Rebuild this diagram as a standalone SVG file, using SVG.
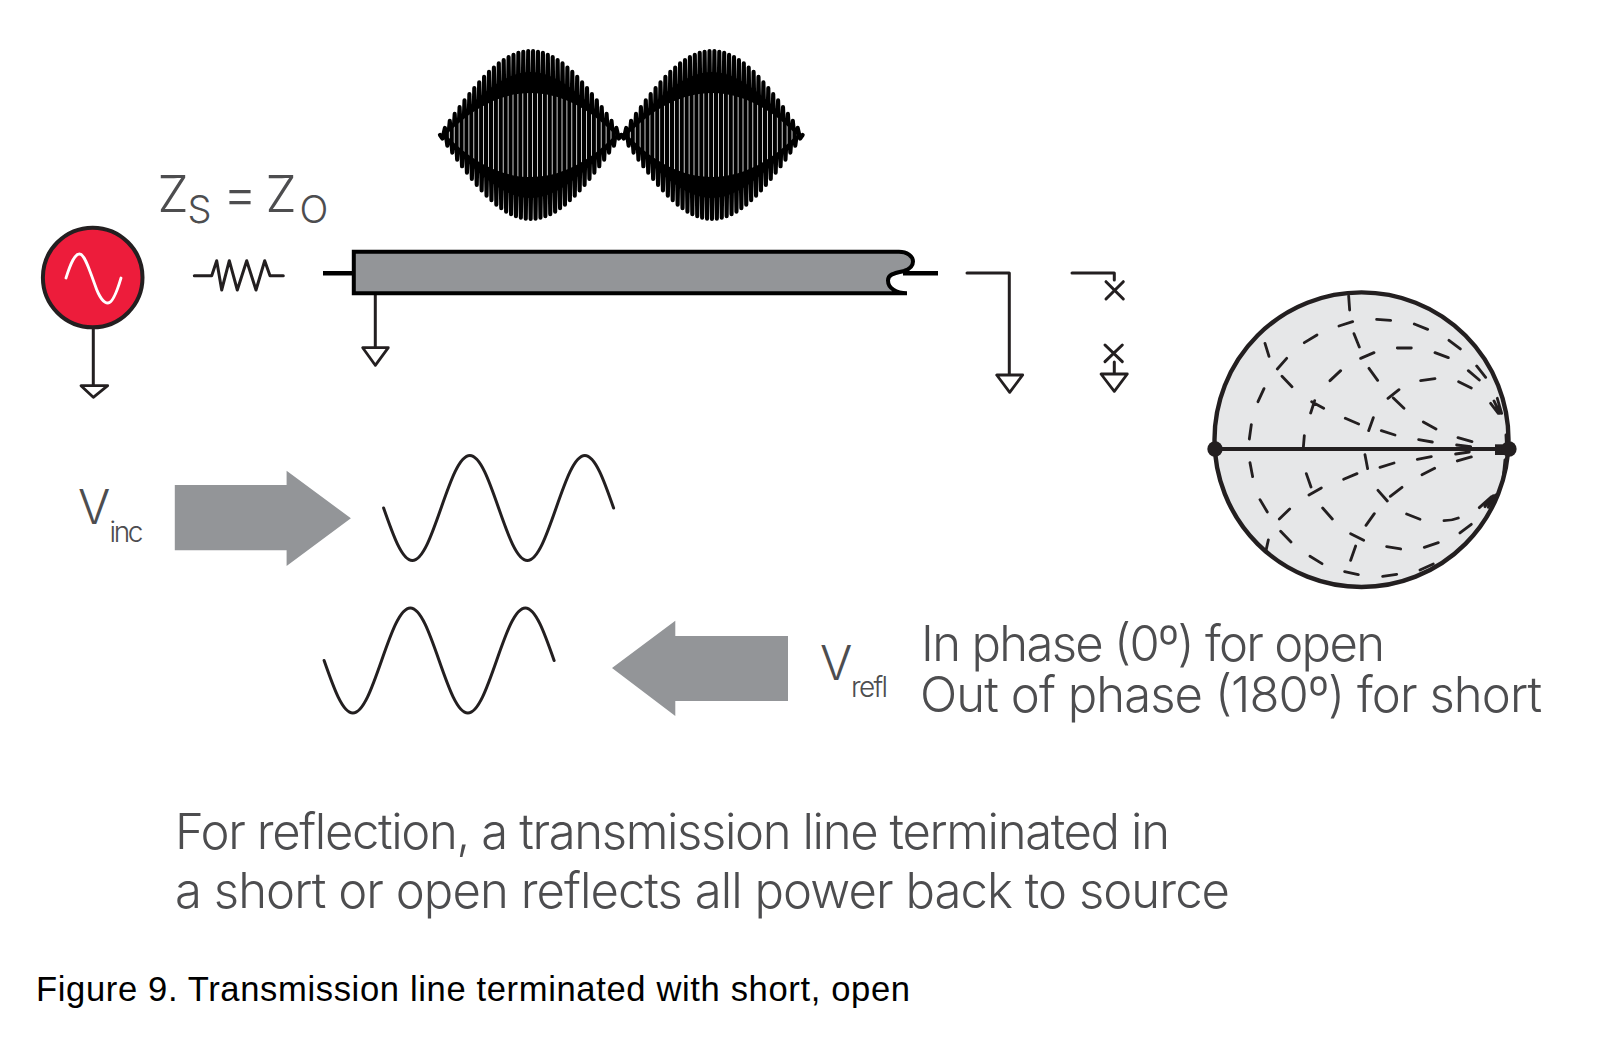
<svg xmlns="http://www.w3.org/2000/svg" xmlns:xlink="http://www.w3.org/1999/xlink" width="1616" height="1039" viewBox="0 0 1616 1039">
<style>
.w{fill:none;stroke:#231f20;stroke-width:3;stroke-linecap:round;stroke-linejoin:round}
.g{fill:#fff;stroke:#231f20;stroke-width:2.8;stroke-linejoin:round}
.t{font-family:Inter,"Liberation Sans",sans-serif;font-weight:300;fill:#4d4d4f}
.a{fill:#939598}
.d{fill:none;stroke:#231f20;stroke-width:8.5;stroke-linecap:round}
</style>
<defs>
<path id="lobe" d="M440 135L442.45 138.6L444.9 127.9L447.35 145.7L449.8 120.8L452.25 152.7L454.7 113.8L457.15 159.6L459.6 107L462.05 166.3L464.5 100.4L466.95 172.8L469.4 94L471.85 179L474.3 88L476.75 184.9L479.2 82.2L481.65 190.5L484.1 76.9L486.55 195.7L489 71.9L491.45 200.3L493.9 67.5L496.35 204.6L498.8 63.4L501.25 208.3L503.7 60L506.15 211.6L508.6 57L511.05 214.2L513.5 54.7L515.95 216.3L518.4 52.9L520.85 217.8L523.3 51.7L525.75 218.7L528.2 51.1L530.65 219L533.1 51.1L535.55 218.7L538 51.7L540.45 217.8L542.9 52.9L545.35 216.3L547.8 54.7L550.25 214.2L552.7 57L555.15 211.6L557.6 60L560.05 208.3L562.5 63.4L564.95 204.6L567.4 67.5L569.85 200.3L572.3 71.9L574.75 195.7L577.2 76.9L579.65 190.5L582.1 82.2L584.55 184.9L587 88L589.45 179L591.9 94L594.35 172.8L596.8 100.4L599.25 166.3L601.7 107L604.15 159.6L606.6 113.8L609.05 152.7L611.5 120.8L613.95 145.7L616.4 127.9L618.85 138.6L621.3 135"/>
<path id="solid" d="M442 135C517 51 544 51 619.3 135C544 219 517 219 442 135Z"/>
<path id="sine" d="M383.6 508c9.4 26.9 18.35 52.5 28.75 52.5c10.4 0 19.35 -25.6 28.75 -52.5c9.4 -26.9 18.35 -52.5 28.75 -52.5c10.4 0 19.35 25.6 28.75 52.5c9.4 26.9 18.35 52.5 28.75 52.5c10.4 0 19.35 -25.6 28.75 -52.5c9.4 -26.9 18.35 -52.5 28.75 -52.5c10.4 0 19.35 25.6 28.75 52.5"/>
<clipPath id="inner"><path d="M446 135C500 79 561 79 615.3 135C561 191 500 191 446 135Z"/></clipPath>
<clipPath id="inner2"><path d="M627.3 135C681.3 79 742.3 79 796.6 135C742.3 191 681.3 191 627.3 135Z"/></clipPath>
</defs>
<rect width="1616" height="1039" fill="#fff"/>

<g id="connectors">
<path class="w" d="M93.3 328V386"/>
<path class="w" d="M375.3 295V348"/>
<path d="M323 273.3H353M903 273.3H938" fill="none" stroke="#000" stroke-width="4.6"/>
<path class="w" d="M967 273H1009.3V375"/>
<path class="w" d="M1072 273H1114.3V280"/>
<path class="w" d="M1114.3 362V374"/>
</g>

<g id="source">
<circle cx="92.7" cy="277.5" r="49.8" fill="#ed1c3b" stroke="#231f20" stroke-width="4"/>
<path d="M66 278C71 262 75 254 79.5 254C85 254 90 272 95 285C99 297 104 303 108 303C112 303 116 295 121 278" fill="none" stroke="#fff" stroke-width="2.8" stroke-linecap="round"/>
<path class="g" d="M81 385.7H107.7L93.3 397.3Z"/>
</g>

<g id="resistor">
<path class="w" d="M194.3 275.7H211.7L216.7 260.7L221.7 290L229.3 260.7L237.3 290L246.7 260.7L256 290L264.7 260.7L270 275.7H283.3"/>
</g>

<g id="zs-label">
<text class="t" x="157.5" y="211.7" font-size="50">Z</text>
<text class="t" x="187.5" y="223" font-size="38">S</text>
<text class="t" x="223" y="211.7" font-size="52">=</text>
<text class="t" x="265.5" y="211.7" font-size="50">Z</text>
<text class="t" x="299.5" y="223" font-size="38">O</text>
</g>

<g id="waveform" fill="none" stroke="#000" stroke-width="4.1" stroke-linejoin="round" stroke-linecap="round">
<use xlink:href="#lobe" href="#lobe"/>
<use xlink:href="#lobe" href="#lobe" transform="translate(181.3 0)"/>
<use xlink:href="#solid" href="#solid" fill="#000" stroke="none"/>
<use xlink:href="#solid" href="#solid" fill="#000" stroke="none" transform="translate(181.3 0)"/>
</g>
<g id="waveform-gaps" fill="none" stroke="#fff" stroke-width="120" stroke-dasharray=".8 4.1">
<path d="M444 135H618" clip-path="url(#inner)"/>
<path d="M625 135H799" clip-path="url(#inner2)"/>
</g>

<g id="cable">
<path d="M353.8 251.8H899C907 251.8 913 256 913 261.5C913 266 910 269 904 271C895 273 888 274 888 280.5C888 288 896 293.2 907 293.2H353.8Z" fill="#939598" stroke="#000" stroke-width="4"/>
<path class="g" d="M362.7 347.7H388.3L375.3 365.3Z"/>
</g>

<g id="short">
<path class="g" d="M996.7 375H1022.7L1009.7 392.3Z"/>
</g>

<g id="open">
<path class="w" d="M1106 281.7L1123.3 299M1123.3 281.7L1106 299M1105 345L1122.3 361.7M1122.3 345L1105 361.7"/>
<path class="g" d="M1101 374H1127.3L1114.3 391.3Z"/>
</g>

<g id="smith">
<ellipse cx="1361.5" cy="439.7" rx="147" ry="147.3" fill="#e6e7e8" stroke="#231f20" stroke-width="4.4"/>
<g transform="translate(1190 280) scale(.3333)">
<path class="d" d="M476 48L479 90M447 138L488 125M560 118L602 121M673 132L713 148M777 181L811 207M492 161L508 201M343 188L381 165M225 190L237 229M262 267L290 235M276 289L306 320M420 302L452 272M512 235L552 218M622 204L664 204M735 218L775 233M537 265L563 301M692 302L735 296M806 305L844 324M835 272L868 300M860 258L887 292M594 355L627 329M610 354L642 385M204 365L222 326M362 399L374 362M365 365L401 385M466 415L506 432M536 452L550 413M574 452L615 465M700 426L738 447M686 479L727 486M804 473L846 485M178 477L184 434M340 503L343 467M800 495L842 500M797 522L838 516M802 543L844 531M682 538L724 530M570 562L612 549M525 524L533 566M696 584L734 565M461 598L501 581M180 548L188 590M349 581L363 621M357 645L394 624M564 631L592 663M601 649L636 622M210 659L232 696M268 717L299 687M398 684L427 717M528 736L553 701M650 702L690 718M762 722Q785 722 805 714M810 759L844 733M868 683L905 650M885 680L910 647M895 682L917 645M272 754L303 786M482 761L521 781M590 800L632 807M703 802L745 788M482 841L497 798M360 829L396 851M228 812L235 780M464 875L505 884M578 889L620 883M690 870L730 852M902 370L925 400M912 363L930 400M922 355L935 400M948 465L950 510M945 540L940 590"/>
<path d="M75 507H955" fill="none" stroke="#231f20" stroke-width="12"/>
<path d="M915 493H955V525H915Z" fill="#231f20"/>
<circle cx="75" cy="507" r="23" fill="#231f20"/>
<circle cx="957" cy="507" r="23" fill="#231f20"/>
</g>
</g>

<g id="v-inc">
<path class="a" d="M174.8 485H286.6V470.7L350.9 518.3L286.6 566V550.3H174.8Z"/>
<text class="t" x="78" y="524" font-size="48">V</text>
<text class="t" x="109.5" y="541.7" font-size="28" textLength="34">inc</text>
<use xlink:href="#sine" href="#sine" class="w"/>
</g>

<g id="v-refl">
<path class="a" d="M612 668L675.3 620.7V636H788V701H675.3V716Z"/>
<text class="t" x="820" y="680" font-size="48">V</text>
<text class="t" x="851" y="697" font-size="28" textLength="37">refl</text>
<use xlink:href="#sine" href="#sine" class="w" transform="translate(-59.5 152.5)"/>
</g>

<g id="phase-note">
<text class="t" x="921" y="661" font-size="49" textLength="464">In phase (0º) for open</text>
<text class="t" x="920" y="711.7" font-size="49" textLength="622">Out of phase (180º) for short</text>
</g>

<g id="reflection-note">
<text class="t" x="175" y="849.3" font-size="49" textLength="995">For reflection, a transmission line terminated in</text>
<text class="t" x="175" y="907.7" font-size="49" textLength="1055">a short or open reflects all power back to source</text>
</g>

<text id="caption" x="36" y="1001" font-family="'Liberation Sans',Arial,sans-serif" font-size="34.6" fill="#000" textLength="874">Figure 9. Transmission line terminated with short, open</text>
</svg>
